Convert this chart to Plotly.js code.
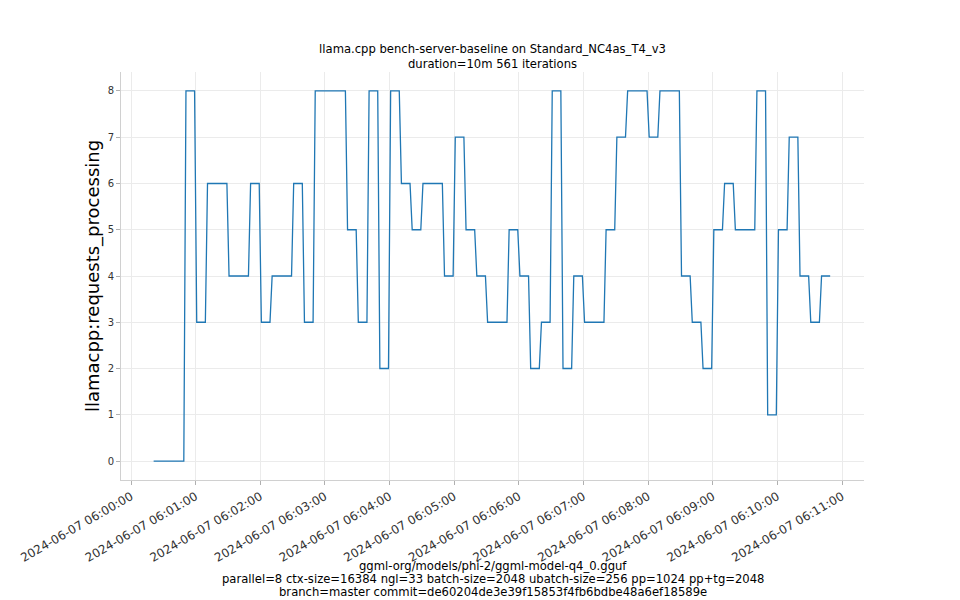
<!DOCTYPE html>
<html>
<head>
<meta charset="utf-8">
<script src="https://cdn.plot.ly/plotly-3.0.1.min.js"></script>
<style>html,body{margin:0;padding:0;background:#fff;}#chart{width:960px;height:600px;}</style>
</head>
<body>
<div id="chart"></div>
<script>
// Vertex times in seconds after 2024-06-07 06:00:00, and requests_processing values
const seconds = [21,49,51,59,61,69,71,89,91,109,111,119,121,129,131,149,151,159,161,169,171,199,201,209,211,219,221,229,231,239,241,249,251,259,261,269,271,289,291,299,301,309,311,319,321,329,331,349,351,359,361,369,371,379,381,389,391,399,401,409,411,419,421,439,441,449,451,459,461,479,481,489,491,509,511,519,521,529,531,539,541,549,551,559,561,579,581,589,591,599,601,609,611,619,621,629,631,639,641,649];
const requests = [0,0,8,8,3,3,6,6,4,4,6,6,3,3,4,4,6,6,3,3,8,8,5,5,3,3,8,8,2,2,8,8,6,6,5,5,6,6,4,4,7,7,5,5,4,4,3,3,5,5,4,4,2,2,3,3,8,8,2,2,4,4,3,3,5,5,7,7,8,8,7,7,8,8,4,4,3,3,2,2,5,5,6,6,5,5,8,8,1,1,5,5,7,7,4,4,3,3,4,4];
const yTicks = [0,1,2,3,4,5,6,7,8];
const xTickMinutes = [0,1,2,3,4,5,6,7,8,9,10,11];
const xLabelLines = [
  'ggml-org/models/phi-2/ggml-model-q4_0.gguf',
  'parallel=8 ctx-size=16384 ngl=33 batch-size=2048 ubatch-size=256 pp=1024 pp+tg=2048',
  'branch=master commit=de60204de3e39f15853f4fb6bdbe48a6ef18589e'
];

const base = Date.UTC(2024,5,7,6,0,0);
function fmt(ms){
  const d = new Date(ms);
  const p = n => String(n).padStart(2,'0');
  const s = d.getUTCFullYear()+'-'+p(d.getUTCMonth()+1)+'-'+p(d.getUTCDate())+' '+p(d.getUTCHours())+':'+p(d.getUTCMinutes())+':'+p(d.getUTCSeconds());
  const ms3 = d.getUTCMilliseconds();
  return ms3 ? s + '.' + String(ms3).padStart(3,'0') : s;
}
const xs = seconds.map(s => fmt(base + s*1000));
const tickvals = xTickMinutes.map(m => fmt(base + m*60000));
const ticktext = tickvals.slice();

const trace = {
  x: xs, y: requests, type: 'scatter', mode: 'lines',
  line: {color: '#1f77b4', width: 1.3},
  hoverinfo: 'x+y', showlegend: false
};

const font = "DejaVu Sans, sans-serif";
// plot area spans 408 px vertically (top 72, bottom 480); place x-label lines in pixels below it
const plotTop = 72, plotBottom = 480;
const linePx = [566, 579, 592];
const annotations = xLabelLines.map((txt, i) => ({
  text: txt,
  xref: 'paper', yref: 'paper', x: 0.5, y: (plotBottom - linePx[i]) / (plotBottom - plotTop),
  xanchor: 'center', yanchor: 'middle', showarrow: false,
  font: {family: font, size: 11.6, color: '#000'}
}));

const layout = {
  width: 960, height: 600,
  margin: {l: 121, r: 96, t: plotTop, b: 600 - plotBottom},
  paper_bgcolor: '#ffffff', plot_bgcolor: '#ffffff',
  font: {family: font, color: '#000'},
  title: {
    text: 'llama.cpp bench-server-baseline on Standard_NC4as_T4_v3<br>duration=10m 561 iterations',
    font: {family: font, size: 11.6, color: '#000'},
    x: 0.5, xref: 'paper', xanchor: 'center',
    y: 1, yref: 'paper', yanchor: 'bottom', pad: {b: 19}
  },
  xaxis: {
    type: 'date',
    range: [fmt(base - 9300), fmt(base + 680400)],
    tickmode: 'array', tickvals: tickvals, ticktext: ticktext,
    tickangle: -30,
    tickfont: {family: font, size: 12, color: '#333'},
    ticks: 'outside', ticklen: 4, tickcolor: '#b0b0b0', tickwidth: 1,
    showgrid: true, gridcolor: '#ebebeb', gridwidth: 1,
    showline: true, linecolor: '#d0d0d0', linewidth: 1,
    zeroline: false,
    automargin: false
  },
  yaxis: {
    range: [-0.41, 8.41],
    tickmode: 'array', tickvals: yTicks,
    tickfont: {family: font, size: 10, color: '#333'},
    ticks: 'outside', ticklen: 4, tickcolor: '#b0b0b0', tickwidth: 1,
    showgrid: true, gridcolor: '#ebebeb', gridwidth: 1,
    showline: true, linecolor: '#d0d0d0', linewidth: 1,
    zeroline: false,
    title: {text: 'llamacpp:requests_processing', font: {family: font, size: 18, color: '#000'}, standoff: 3},
    automargin: false
  },
  annotations: annotations
};

Plotly.newPlot('chart', [trace], layout, {displayModeBar: false, staticPlot: true});
</script>
</body>
</html>
